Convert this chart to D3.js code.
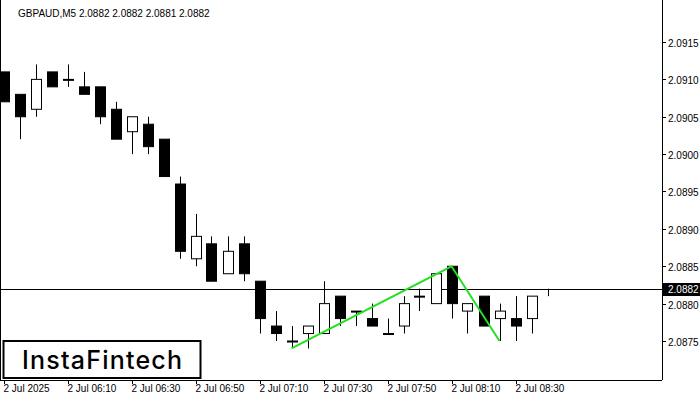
<!DOCTYPE html>
<html><head><meta charset="utf-8">
<script src="https://cdn.jsdelivr.net/npm/d3@7"></script>
<style>body{margin:0;background:#fff}svg{display:block}</style>
</head><body><svg id="c" width="700" height="400"></svg>
<script>
const opens  = [2.0911,2.0908,2.0906,2.0911,2.0910,2.0909,2.0909,2.0906,2.0903,2.0904,2.0902,2.0896,2.0886,2.0888,2.0884,2.0888,2.0883,2.0877,2.0875,2.0876,2.0876,2.0881,2.0879,2.0878,2.0876,2.0877,2.0881,2.0880,2.0885,2.0879,2.0881,2.0878,2.0878,2.0878,2.0882];
const highs  = [2.0911,2.0908,2.0912,2.0911,2.0912,2.0911,2.0909,2.0907,2.0905,2.0905,2.0902,2.0897,2.0892,2.0889,2.0889,2.0889,2.0883,2.0879,2.0877,2.0877,2.0883,2.0881,2.0879,2.0880,2.0878,2.0881,2.0882,2.0884,2.0885,2.0880,2.0881,2.0880,2.0881,2.0881,2.0882];
const lows   = [2.0907,2.0902,2.0905,2.0909,2.0909,2.0908,2.0904,2.0902,2.0900,2.0900,2.0897,2.0886,2.0885,2.0883,2.0884,2.0883,2.0876,2.0875,2.0874,2.0874,2.0876,2.0877,2.0877,2.0877,2.0876,2.0876,2.0879,2.0880,2.0878,2.0876,2.0877,2.0875,2.0875,2.0876,2.0881];
const closes = [2.0907,2.0905,2.0910,2.0909,2.0910,2.0908,2.0905,2.0902,2.0905,2.0901,2.0897,2.0887,2.0889,2.0883,2.0887,2.0884,2.0878,2.0876,2.0875,2.0877,2.0880,2.0878,2.0879,2.0877,2.0876,2.0880,2.0881,2.0884,2.0880,2.0880,2.0877,2.0879,2.0877,2.0881,2.0882];
const xTickIdx = [0,4,8,12,16,20,24,28,32];
const xTickLabels = ["2 Jul 2025","2 Jul 06:10","2 Jul 06:30","2 Jul 06:50","2 Jul 07:10","2 Jul 07:30","2 Jul 07:50","2 Jul 08:10","2 Jul 08:30"];
const yTicks = [2.0875,2.0880,2.0885,2.0890,2.0895,2.0900,2.0905,2.0910,2.0915];
const patternIdx = [18,28,31];
const patternPrice = [2.0874,2.0885,2.0875];
const lastPrice = 2.0882;

const svg = d3.select("#c");
const W=662, H=380;
const x = d3.scaleLinear().domain([0,34]).range([3.5,547.5]);
const y = d3.scaleLinear().domain([2.0875,2.0915]).range([341,42]);
const font = "Arial, 'Liberation Sans', sans-serif";
const plot = svg.append("g");
plot.append("defs").append("clipPath").attr("id","cp").append("rect").attr("x",0).attr("y",0).attr("width",W).attr("height",H);
const g = plot.append("g").attr("clip-path","url(#cp)");

g.append("line").attr("x1",0).attr("x2",W).attr("y1",Math.round(y(lastPrice))+0.5).attr("y2",Math.round(y(lastPrice))+0.5).attr("stroke","#000");

const idx = d3.range(opens.length);
const last = opens.length-1;
g.selectAll(".w").data(idx).join("line")
 .attr("x1",i=>Math.round(x(i))+0.5).attr("x2",i=>Math.round(x(i))+0.5)
 .attr("y1",i=>y(highs[i])).attr("y2",i=>y(lows[i])).attr("stroke","#000");
g.selectAll(".b").data(idx.filter(i=>i!==last)).join("rect")
 .attr("x",i=>Math.round(x(i))-4.5).attr("width",10)
 .attr("y",i=>y(Math.max(opens[i],closes[i])))
 .attr("height",i=>Math.max(1,Math.abs(y(opens[i])-y(closes[i]))))
 .attr("fill",i=>closes[i]<opens[i]?"#000":"#fff").attr("stroke","#000");

g.append("path").datum(patternIdx.map((d,k)=>[x(d),y(patternPrice[k])]))
 .attr("d",d3.line()).attr("fill","none").attr("stroke","#22e022").attr("stroke-width",2);

svg.append("line").attr("x1",W+0.5).attr("x2",W+0.5).attr("y1",0).attr("y2",H).attr("stroke","#000");
svg.append("line").attr("x1",0).attr("x2",W).attr("y1",H+0.5).attr("y2",H+0.5).attr("stroke","#000");
svg.append("line").attr("x1",0.5).attr("x2",0.5).attr("y1",0).attr("y2",H).attr("stroke","#000");

yTicks.forEach(t=>{
  const yy=Math.round(y(t))+0.5;
  svg.append("line").attr("x1",W).attr("x2",W+4).attr("y1",yy).attr("y2",yy).attr("stroke","#000");
  svg.append("text").attr("x",668).attr("y",yy+4).attr("font-family",font).attr("font-size",10).text(t.toFixed(4));
});
xTickIdx.forEach((t,k)=>{
  const xx=Math.round(x(t))+0.5;
  svg.append("line").attr("x1",xx).attr("x2",xx).attr("y1",H).attr("y2",H+4).attr("stroke","#000");
  svg.append("text").attr("x",xx-1).attr("y",392).attr("font-family",font).attr("font-size",10).text(xTickLabels[k]);
});
const ly=Math.round(y(lastPrice));
svg.append("rect").attr("x",W).attr("y",ly-6).attr("width",38).attr("height",13).attr("fill","#000");
svg.append("text").attr("x",668).attr("y",ly+4).attr("font-family",font).attr("font-size",10).attr("fill","#fff").text(lastPrice.toFixed(4));

svg.append("text").attr("x",18).attr("y",17).attr("font-family",font).attr("font-size",10).text("GBPAUD,M5  2.0882 2.0882 2.0881 2.0882");

svg.append("rect").attr("x",3.5).attr("y",341).attr("width",197).attr("height",37).attr("fill","#fff").attr("stroke","#000").attr("stroke-width",2);
svg.append("text").attr("x",102).attr("y",369).attr("text-anchor","middle").attr("font-family","Inter, sans-serif").attr("font-weight",500).attr("textLength",160).attr("font-size",25).text("InstaFintech");
</script></body></html>
